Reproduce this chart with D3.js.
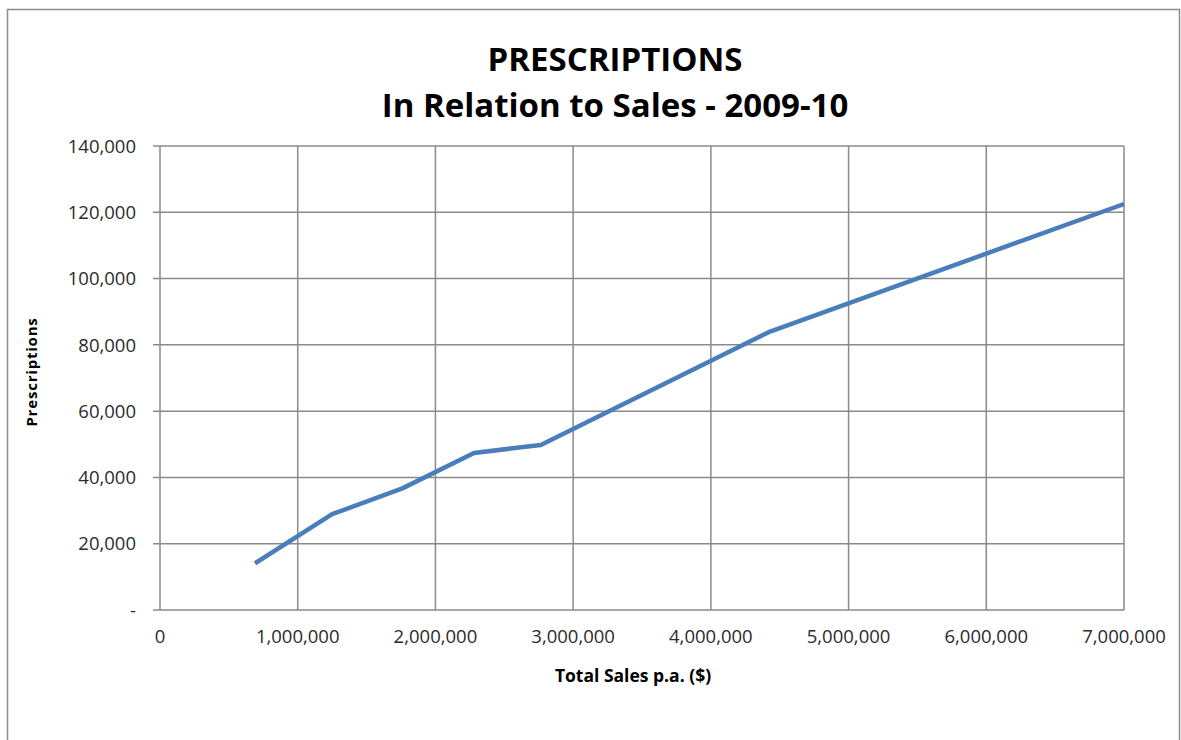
<!DOCTYPE html>
<html>
<head>
<meta charset="utf-8">
<script src="https://cdn.jsdelivr.net/npm/d3@7"></script>
<style>
  body { margin: 0; background: #fff; }
  svg { display: block; font-family: "Open Sans", "Noto Sans", sans-serif; }
</style>
</head>
<body>
<div id="chart"></div>
<script>
'use strict';

// chart values
const sales = [690000, 1250000, 1760000, 2280000, 2765000, 4430000, 7000000];
const prescriptions = [14100, 28900, 36700, 47400, 49800, 84000, 122500];
const xTicks = [0, 1000000, 2000000, 3000000, 4000000, 5000000, 6000000, 7000000];
const yTicks = [0, 20000, 40000, 60000, 80000, 100000, 120000, 140000];
const titleLines = ["PRESCRIPTIONS", "In Relation to Sales - 2009-10"];

const size = { width: 1181, height: 740 };
const plot = { left: 160, right: 1124, top: 146, bottom: 610 };

const svg = d3.select("#chart").append("svg")
    .attr("width", size.width)
    .attr("height", size.height);

// outer frame
svg.append("path")
    .attr("d", "M7.5,745 V9.5 H1179.5 V745")
    .attr("fill", "none")
    .attr("stroke", "#8c8c8c")
    .attr("stroke-width", 1.5);

const x = d3.scaleLinear().domain([0, 7000000]).range([plot.left, plot.right]);
const y = d3.scaleLinear().domain([0, 140000]).range([plot.bottom, plot.top]);

const fmt = d3.format(",");

// grid lines
svg.append("g")
    .selectAll("line")
    .data(yTicks)
    .join("line")
    .attr("x1", plot.left - 7)
    .attr("x2", plot.right)
    .attr("y1", d => y(d))
    .attr("y2", d => y(d))
    .attr("stroke", "#8a8a8a")
    .attr("stroke-width", 1.5);

svg.append("g")
    .selectAll("line")
    .data(xTicks)
    .join("line")
    .attr("x1", d => x(d))
    .attr("x2", d => x(d))
    .attr("y1", plot.top)
    .attr("y2", plot.bottom)
    .attr("stroke", "#8a8a8a")
    .attr("stroke-width", 1.5);

// tick labels
svg.append("g")
    .selectAll("text")
    .data(yTicks)
    .join("text")
    .attr("x", 136)
    .attr("y", d => y(d))
    .attr("dy", "0.36em")
    .attr("text-anchor", "end")
    .attr("font-size", 18.5)
    .attr("fill", "#2b2b2b")
    .text(d => d === 0 ? "-" : fmt(d));

svg.append("g")
    .selectAll("text")
    .data(xTicks)
    .join("text")
    .attr("x", d => x(d))
    .attr("y", 643)
    .attr("text-anchor", "middle")
    .attr("font-size", 18.5)
    .attr("fill", "#2b2b2b")
    .text(d => fmt(d));

// the line
const line = d3.line()
    .x((d, i) => x(sales[i]))
    .y(d => y(d));

svg.append("path")
    .datum(prescriptions)
    .attr("d", line)
    .attr("fill", "none")
    .attr("stroke", "#4a7ebb")
    .attr("stroke-width", 4.5)
    .attr("stroke-linejoin", "round");

// titles
svg.append("g")
    .selectAll("text")
    .data(titleLines)
    .join("text")
    .attr("x", 615)
    .attr("y", (d, i) => 71 + i * 46)
    .attr("text-anchor", "middle")
    .attr("font-size", 33)
    .attr("font-weight", "bold")
    .attr("fill", "#000")
    .text(d => d);

svg.append("text")
    .attr("x", 633)
    .attr("y", 682)
    .attr("text-anchor", "middle")
    .attr("font-size", 17.5)
    .attr("font-weight", "bold")
    .text("Total Sales p.a. ($)");

svg.append("text")
    .attr("transform", "translate(37,372) rotate(-90)")
    .attr("text-anchor", "middle")
    .attr("font-size", 15)
    .attr("font-weight", "bold")
    .attr("letter-spacing", 0.8)
    .text("Prescriptions");
</script>
</body>
</html>
